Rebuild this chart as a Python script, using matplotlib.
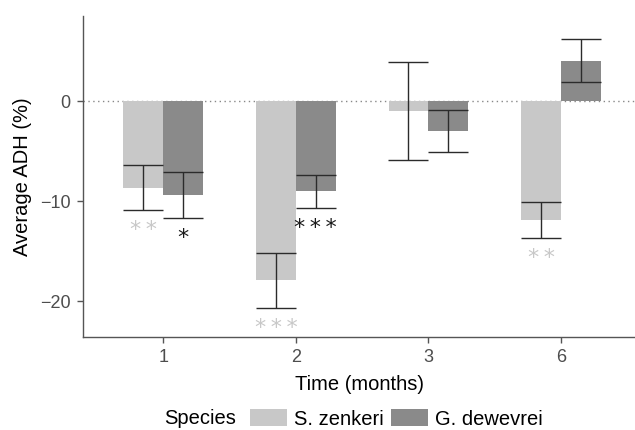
import matplotlib
matplotlib.use("Agg")
import matplotlib.pyplot as plt
from matplotlib.patches import Patch
import numpy as np

plt.rcParams['font.family'] = ['Liberation Sans', 'DejaVu Sans']

# data
months = ["1", "2", "3", "6"]
species = ["S. zenkeri", "G. dewevrei"]
colors = ["#c8c8c8", "#8a8a8a"]
star_colors = ["#c8c8c8", "#1a1a1a"]

zenkeri_mean = [-8.7, -17.9, -1.0, -11.9]
zenkeri_hi = [-6.4, -15.2, 3.9, -10.1]
zenkeri_lo = [-10.9, -20.7, -5.9, -13.7]
zenkeri_stars = ["**", "***", "", "**"]

dewevrei_mean = [-9.4, -9.0, -3.0, 4.0]
dewevrei_hi = [-7.1, -7.4, -0.9, 6.2]
dewevrei_lo = [-11.7, -10.7, -5.1, 1.9]
dewevrei_stars = ["*", "***", "", ""]

means = [zenkeri_mean, dewevrei_mean]
his = [zenkeri_hi, dewevrei_hi]
los = [zenkeri_lo, dewevrei_lo]
stars = [zenkeri_stars, dewevrei_stars]

fig = plt.figure(figsize=(6.35, 4.3), dpi=100)
ax = fig.add_axes([0.131, 0.217, 0.869, 0.7465])

x = np.arange(len(months))
w = 0.3
offsets = [-w / 2, w / 2]

ax.axhline(0, color="#888888", lw=1, ls=(0, (1, 2.5)), zorder=1)

for i in range(2):
    m = np.array(means[i])
    hi = np.array(his[i])
    lo = np.array(los[i])
    ax.bar(x + offsets[i], m, width=w, color=colors[i], zorder=2)
    ax.errorbar(x + offsets[i], m, yerr=[m - lo, hi - m], fmt="none",
                ecolor="#2b2b2b", elinewidth=1.0, capsize=14.3,
                capthick=1.0, zorder=3)
    for j in range(len(months)):
        if stars[i][j]:
            ax.text(x[j] + offsets[i], lo[j] - 2.6, "\u2009".join(stars[i][j]),
                    ha="center", va="baseline", fontsize=16,
                    color=star_colors[i], family="DejaVu Sans")

ax.set_xlim(-0.603, 3.558)
ax.set_ylim(-23.55, 8.55)
ax.set_xticks(x)
ax.set_xticklabels(months)
ax.set_yticks([0, -10, -20])
ax.set_yticklabels(["0", "\u221210", "\u221220"])

for s in ["top", "right"]:
    ax.spines[s].set_visible(False)
for s in ["left", "bottom"]:
    ax.spines[s].set_color("#555555")
    ax.spines[s].set_linewidth(1.0)
ax.tick_params(axis="both", colors="#555555", labelcolor="#4d4d4d",
               labelsize=13, length=4.5, width=1.0, pad=4.5)

ax.set_xlabel("Time (months)", fontsize=14.5, labelpad=6)
ax.set_ylabel("Average ADH (%)", fontsize=14.5, labelpad=6)

# legend at the bottom, title on the left
handles = [Patch(facecolor=c, edgecolor="none") for c in colors]
leg = fig.legend(handles, species, loc="center left",
                 bbox_to_anchor=(250 / 635, 1 - 419 / 430),
                 ncol=2, frameon=False, fontsize=14.5,
                 handlelength=1.85, handleheight=0.93,
                 handletextpad=0.35, columnspacing=0.35, borderaxespad=0,
                 borderpad=0)
fig.text(164 / 635, 1 - 419 / 430, "Species", fontsize=14.5,
         ha="left", va="center")

fig.savefig("out.png", dpi=100)
